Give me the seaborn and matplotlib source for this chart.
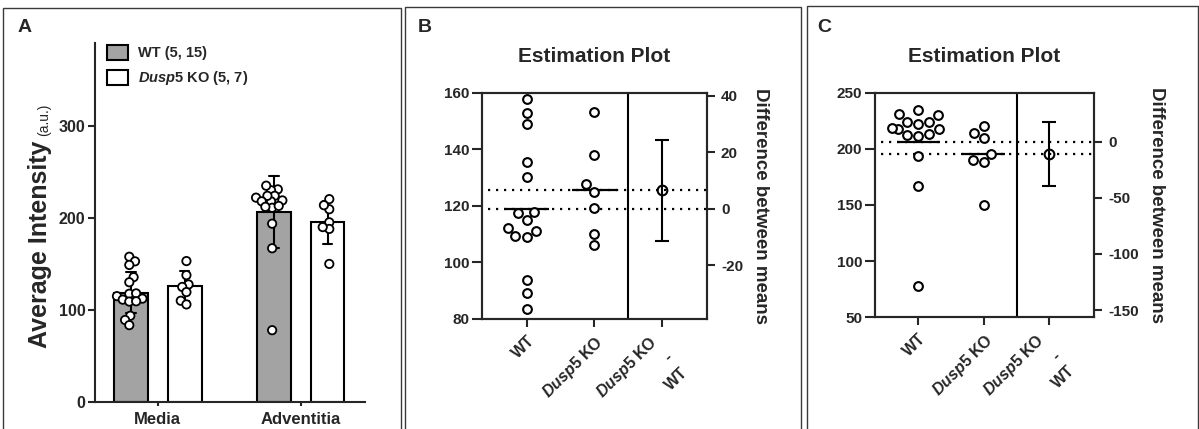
import numpy as np
import pandas as pd
import matplotlib
matplotlib.use('Agg')
import matplotlib.pyplot as plt
import matplotlib.transforms as mtransforms
from matplotlib.patches import Rectangle, Patch
import seaborn as sns

# ================= data =================
regions = ['Media', 'Adventitia']
genotypes = ['WT', 'KO']
media_wt = [157.8, 152.8, 148.9, 135.6, 130.1, 117.6, 118.0, 115.0,
            112.3, 111.2, 109.1, 109.4, 93.7, 89.1, 83.5]
media_ko = [153.1, 137.8, 127.7, 125.0, 119.4, 110.0, 106.0]
adv_wt = [231, 230, 235, 224, 222, 218, 224, 219, 218, 211, 212, 213,
          193.7, 167, 78]
adv_ko = [220.4, 209.4, 213.8, 195.2, 188.0, 190.0, 150.0]
legend_labels = ['WT (5, 15)', r'$\mathit{Dusp5}$ KO (5, 7)']
est_labels = ['WT', r'$\mathit{Dusp5}$ KO', '$\\mathit{Dusp5}$ KO\n-\nWT']
ci_media = [-11.4, 24.5]   # 95% CI of KO - WT, panel B
ci_adv = [-39.2, 17.2]     # panel C
ticks_a = [0, 100, 200, 300]
left_ticks_b = [80, 100, 120, 140, 160]
right_ticks_b = [-20, 0, 20, 40]
left_ticks_c = [50, 100, 150, 200, 250]
right_ticks_c = [-150, -100, -50, 0]
# ==============================================================

GRAY = '#a3a3a3'
W, H = 1199, 429

sns.set_style('ticks')
plt.rcParams['font.family'] = ['Liberation Sans', 'DejaVu Sans']
plt.rcParams['font.weight'] = 'bold'
plt.rcParams['mathtext.fontset'] = 'custom'
plt.rcParams['mathtext.rm'] = 'Liberation Sans:bold'
plt.rcParams['mathtext.bf'] = 'Liberation Sans:bold'
plt.rcParams['mathtext.it'] = 'Liberation Sans:italic:bold'
plt.rcParams['axes.linewidth'] = 1.5
plt.rcParams['axes.unicode_minus'] = False


def px_box(x0, y0, x1, y1):
    # pixel box (top-left origin) -> figure fraction rect
    return [x0 / W, 1 - y1 / H, (x1 - x0) / W, (y1 - y0) / H]


fig = plt.figure(figsize=(W / 100, H / 100), dpi=100)

# panel frames
for x0, x1, top in [(3, 401, 8), (405, 801, 7), (807, 1198, 6)]:
    fig.add_artist(Rectangle((x0 / W, -0.05), (x1 - x0) / W, 1 - top / H + 0.05,
                             transform=fig.transFigure, fill=False,
                             ec='#3a3a3a', lw=1.0))
for lab, x in [('A', 18), ('B', 418), ('C', 817)]:
    fig.text(x / W, 1 - 32 / H, lab, fontsize=14, fontweight='bold', va='baseline')

# ---------------- panel A: bars + points ----------------
rows = []
for region, wt, ko in [('Media', media_wt, media_ko), ('Adventitia', adv_wt, adv_ko)]:
    rows += [(region, 'WT', v) for v in wt]
    rows += [(region, 'KO', v) for v in ko]
df = pd.DataFrame(rows, columns=['region', 'genotype', 'value'])

axA = fig.add_axes(px_box(95, 43, 365, 402))
sns.barplot(data=df, x='region', y='value', hue='genotype', order=regions,
            hue_order=genotypes, palette=[GRAY, 'white'], saturation=1,
            errorbar='sd', capsize=0.13, width=0.75, gap=0.37,
            err_kws={'linewidth': 1.5, 'color': 'black'},
            edgecolor='black', linewidth=1.5, legend=False, ax=axA)
# lay the swarm out with small markers so it packs tightly (GraphPad style),
# then draw the markers at full size
sns.swarmplot(data=df, x='region', y='value', hue='genotype', order=regions,
              hue_order=genotypes, dodge=True, palette=['white', 'white'],
              edgecolor='black', linewidth=1.3, size=3.4, legend=False,
              zorder=4, ax=axA)
axA.set_ylim(0, 390)
axA.set_xlim(-0.44, 1.45)
fig.canvas.draw()
for coll in axA.collections:
    if 'draw' in coll.__dict__:
        del coll.draw
    coll.set_sizes([6.0 ** 2])

axA.set_yticks(ticks_a)
axA.set_xlabel('')
axA.set_ylabel('')
sns.despine(ax=axA)
axA.tick_params(axis='y', width=1.5, length=5, labelsize=11.5, pad=2)
axA.tick_params(axis='x', width=1.5, length=3, labelsize=12, pad=4)
handles = [Patch(fc=GRAY, ec='black', lw=1.5), Patch(fc='white', ec='black', lw=1.5)]
axA.legend(handles, legend_labels, loc='upper left', bbox_to_anchor=(0.045, 0.995),
           frameon=False, fontsize=10.5, handlelength=1.4, handleheight=1.25,
           handletextpad=0.7, labelspacing=0.6, borderpad=0, borderaxespad=0)

yl1 = fig.text(47 / W, 1 - 348 / H, 'Average Intensity', rotation=90,
               rotation_mode='anchor', ha='left', va='baseline',
               fontsize=18, fontweight='bold')
fig.canvas.draw()
bb = yl1.get_window_extent()
fig.text(48 / W, (bb.y1 + 5) / H, '(a.u.)', rotation=90, rotation_mode='anchor',
         ha='left', va='baseline', fontsize=10, fontweight='normal')


# ---------------- panels B & C: estimation plots ----------------
def estimation(box, wt, ko, ci, lticks, rticks, ylim, xlim):
    ax = fig.add_axes(px_box(*box))
    d = pd.DataFrame({'group': [est_labels[0]] * len(wt) + [est_labels[1]] * len(ko),
                      'value': wt + ko})
    sns.swarmplot(data=d, x='group', y='value', order=est_labels, color='white',
                  edgecolor='black', linewidth=1.5, size=6.3, zorder=4, ax=ax)
    ax.set_xlim(*xlim)
    ax.set_ylim(*ylim)
    m_wt, m_ko = np.mean(wt), np.mean(ko)
    for i, m in enumerate([m_wt, m_ko]):
        ax.hlines(m, i - 0.33, i + 0.33, color='black', lw=1.6, zorder=3)
        ax.hlines(m, xlim[0] + 0.09, xlim[1], color='black', lw=1.6,
                  linestyles=(0, (1, 2.6)), zorder=1)
    ax.axvline(1.5, color='black', lw=1.5)
    ax.set_yticks(lticks)
    ax.set_xlabel('')
    ax.set_ylabel('')
    ax.set_title('Estimation Plot', fontsize=15, fontweight='bold', pad=22)
    ax.tick_params(axis='y', width=1.5, length=7, labelsize=11, pad=2)
    ax.tick_params(axis='x', width=1.5, length=6, labelsize=11.5, pad=4)
    for t in ax.get_xticklabels():
        t.set_rotation(45)
        t.set_rotation_mode('anchor')
        t.set_ha('right')
        t.set_va('top')
        t.set_multialignment('right')
        t.set_linespacing(1.45)
    last = ax.get_xticklabels()[-1]
    last.set_transform(last.get_transform() +
                       mtransforms.ScaledTranslation(-0.14, 0, fig.dpi_scale_trans))

    axr = ax.twinx()
    axr.set_ylim(ylim[0] - m_wt, ylim[1] - m_wt)
    axr.set_yticks(rticks)
    diff = m_ko - m_wt
    axr.errorbar(2, diff, yerr=[[diff - ci[0]], [ci[1] - diff]], fmt='o',
                 mfc='none', mec='black', mew=1.5, ms=7, ecolor='black',
                 elinewidth=1.5, capsize=5, capthick=1.5)
    axr.tick_params(axis='y', width=1.5, length=6, labelsize=11, pad=4)
    axr.set_ylabel('Difference between means', rotation=270, fontsize=13.5,
                   fontweight='bold', labelpad=19)
    for s in list(ax.spines.values()) + list(axr.spines.values()):
        s.set_linewidth(1.5)
    return ax


estimation((481.7, 92.7, 707, 319), media_wt, media_ko, ci_media,
           left_ticks_b, right_ticks_b, (80, 160), (-0.665, 2.665))
estimation((875, 92.7, 1094, 317.3), adv_wt, adv_ko, ci_adv,
           left_ticks_c, right_ticks_c, (50, 250), (-0.66, 2.68))

fig.savefig('out.png', dpi=100)
